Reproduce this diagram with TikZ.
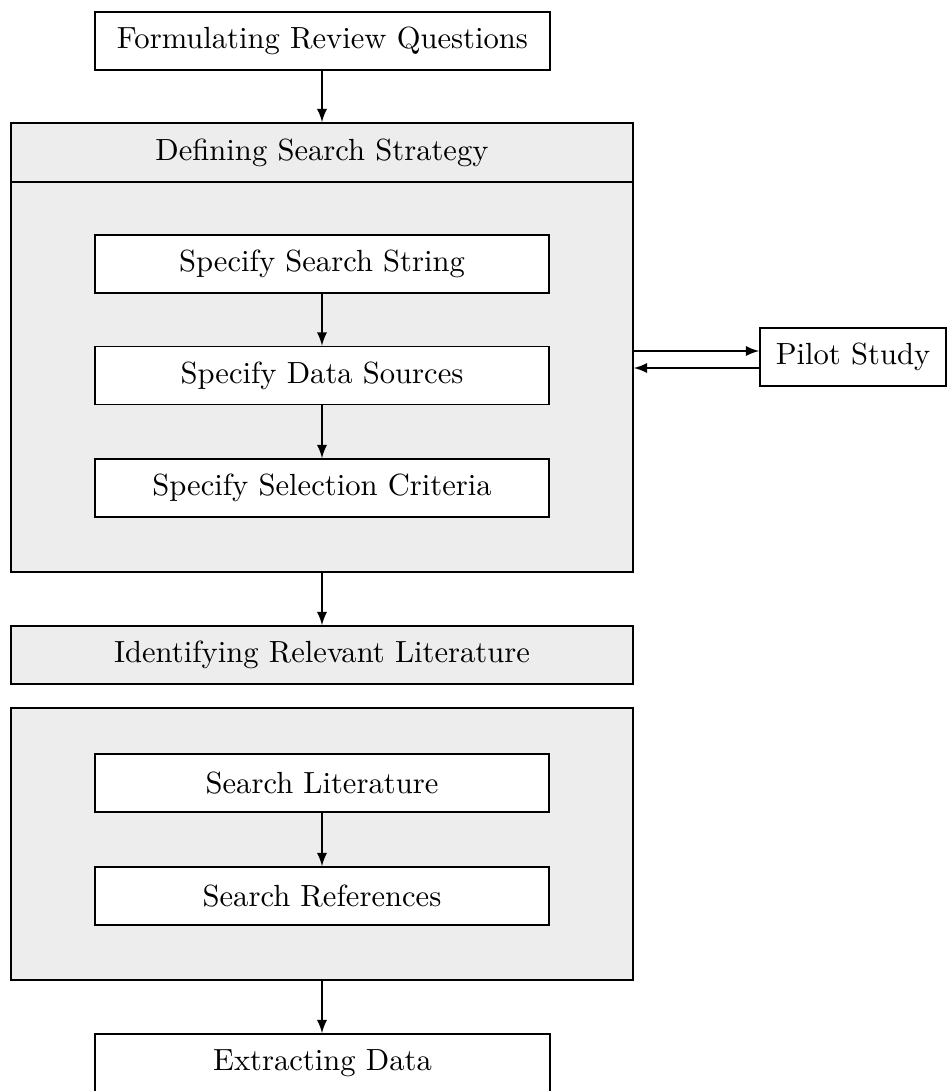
\documentclass[tikz,border=0pt]{standalone}
\usetikzlibrary{calc,arrows}
\definecolor{panel}{RGB}{237,237,237}
\tikzset{
  box/.style={draw, line width=0.55pt, fill=white, inner sep=0pt,
              minimum width=455*0.3333pt, minimum height=58*0.3333pt},
  panelbox/.style={draw, line width=0.55pt, fill=panel, inner sep=0pt,
              minimum width=622*0.3333pt},
  flow/.style={-latex, line width=0.55pt}
}
\begin{document}
\begin{tikzpicture}[x=0.3333pt, y=-0.3333pt, font=\fontsize{10.2}{12}\selectfont]
  \useasboundingbox (0,0) rectangle (948,1091);

  % first step
  \node[box] (frq) at (322.5,41) {Formulating Review Questions};

  % search strategy panel with its header strip
  \node[panelbox, minimum height=449*0.3333pt] (dss) at (322,347.5) {};
  \node[panelbox, minimum height=59*0.3333pt] (dssh) at (322,152.5) {Defining Search Strategy};
  \node[box, minimum width=454*0.3333pt] (sss) at (322,264) {Specify Search String};
  \node[box, minimum width=454*0.3333pt] (sds) at (322,375.5) {Specify Data Sources};
  \node[box, minimum width=454*0.3333pt] (ssc) at (322,488) {Specify Selection Criteria};

  % pilot study loop
  \node[box, minimum width=186*0.3333pt] (pilot) at (853,357) {Pilot Study};
  \coordinate (pout) at ($(pilot.west)+(0,-6)$);
  \coordinate (pback) at ($(pilot.west)+(0,11)$);

  % literature identification
  \node[panelbox, minimum height=58*0.3333pt] (irl) at (322,655) {Identifying Relevant Literature};
  \node[panelbox, minimum height=272*0.3333pt] (lit) at (322,844) {};
  \node[box, minimum width=454*0.3333pt] (sl) at (322,783) {Search Literature};
  \node[box, minimum width=454*0.3333pt] (sr) at (322,896) {Search References};

  % final step
  \node[box] (ed) at (322.5,1063) {Extracting Data};

  % connectors
  \draw[flow] (frq.south -| dss.north) -- (dss.north);
  \draw[flow] (sss) -- (sds);
  \draw[flow] (sds) -- (ssc);
  \draw[flow] (pout -| dss.east) -- (pout);
  \draw[flow] (pback) -- (pback -| dss.east);
  \draw[flow] (dss.south) -- (irl.north);
  \draw[flow] (sl) -- (sr);
  \draw[flow] (lit.south) -- (ed.north -| lit.south);
\end{tikzpicture}
\end{document}
